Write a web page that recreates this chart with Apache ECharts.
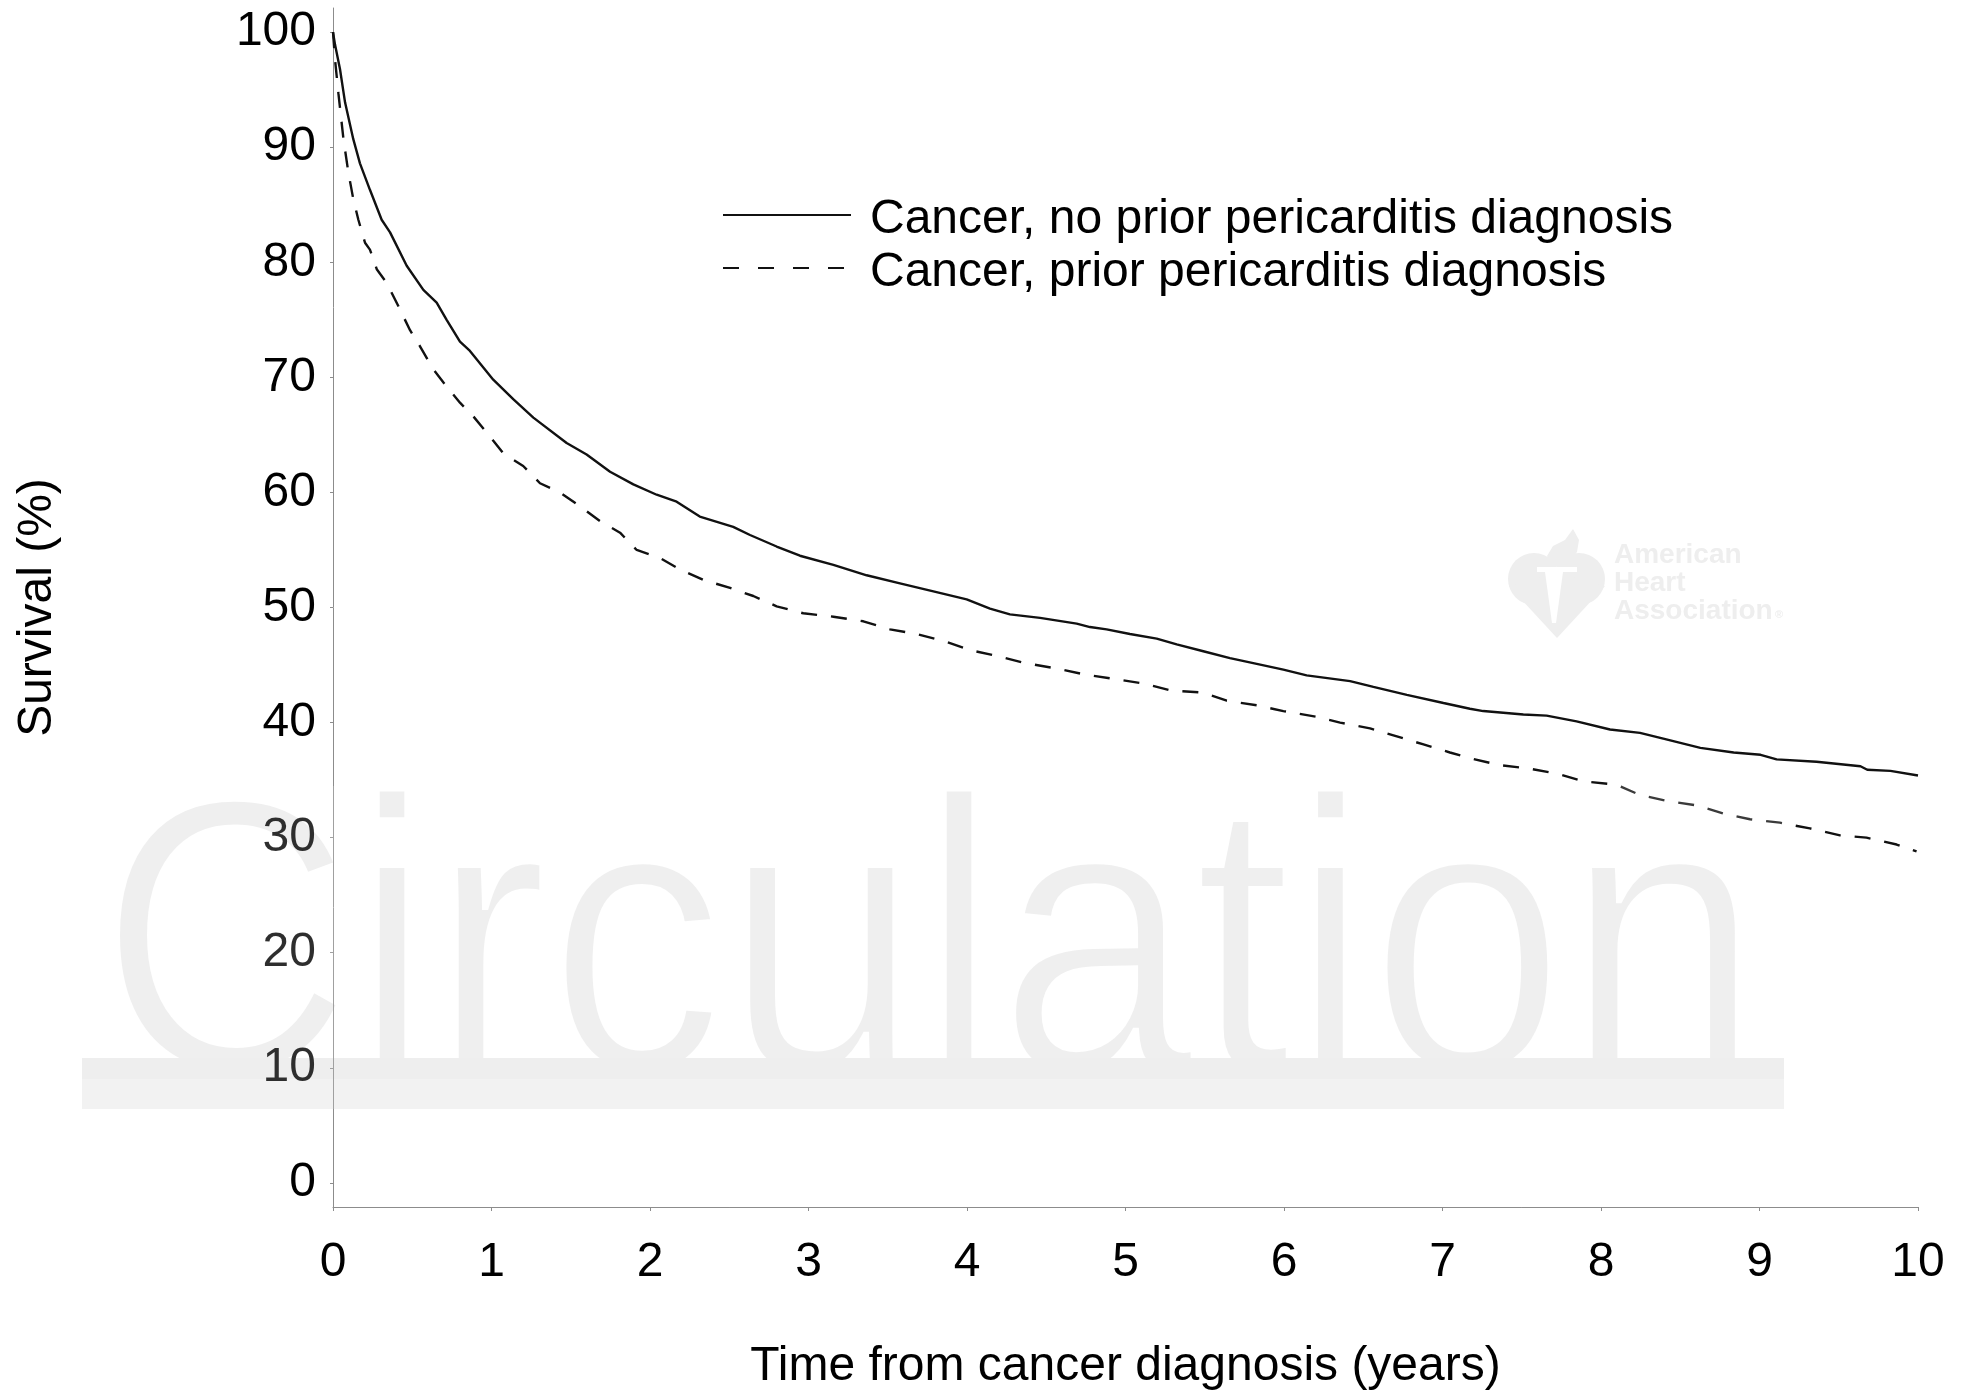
<!DOCTYPE html>
<html>
<head>
<meta charset="utf-8">
<title>Survival after cancer diagnosis</title>
<script src="https://cdn.jsdelivr.net/npm/echarts@6.0.0/dist/echarts.min.js"></script>
<style>
  html, body { margin: 0; padding: 0; background: #fff; }
  #chart { width: 1969px; height: 1391px; }
</style>
</head>
<body>
<div id="chart"></div>
<script>
// survival curves (years, % surviving)
var seriesNames = ['Cancer, no prior pericarditis diagnosis', 'Cancer, prior pericarditis diagnosis'];

var noPriorYears = [0, 0.013, 0.044, 0.076, 0.128, 0.17, 0.233, 0.307, 0.36, 0.465, 0.57, 0.654, 0.717, 0.801, 0.864,
  1.011, 1.137, 1.264, 1.474, 1.6, 1.748, 1.895, 2.042, 2.168, 2.314, 2.525, 2.631, 2.799, 2.946,
  3.157, 3.367, 3.577, 3.788, 3.998, 4.145, 4.271, 4.461, 4.692, 4.776, 4.881, 5.028, 5.197, 5.323,
  5.491, 5.659, 5.828, 5.996, 6.143, 6.417, 6.564, 6.775, 7.006, 7.173, 7.257, 7.51, 7.657, 7.846,
  8.057, 8.246, 8.393, 8.627, 8.837, 9.007, 9.108, 9.36, 9.637, 9.68, 9.826, 10];
var noPriorSurvival = [100, 98.9, 96.8, 93.9, 90.7, 88.6, 86.3, 83.7, 82.6, 79.7, 77.6, 76.5, 75.0, 73.1, 72.3,
  69.8, 68.1, 66.5, 64.3, 63.3, 61.8, 60.7, 59.8, 59.2, 57.9, 57.0, 56.3, 55.3, 54.5,
  53.7, 52.8, 52.1, 51.4, 50.7, 49.9, 49.4, 49.1, 48.6, 48.3, 48.1, 47.7, 47.3, 46.8,
  46.2, 45.6, 45.1, 44.6, 44.1, 43.6, 43.1, 42.4, 41.7, 41.2, 41.0, 40.7, 40.6, 40.1,
  39.4, 39.1, 38.6, 37.8, 37.4, 37.2, 36.8, 36.6, 36.2, 35.9, 35.8, 35.4];

var priorYears = [0, 0.013, 0.034, 0.066, 0.097, 0.128, 0.16, 0.202, 0.233, 0.276, 0.339, 0.412, 0.486, 0.549,
  0.633, 0.717, 0.801, 0.886, 0.97, 1.074, 1.2, 1.306, 1.432, 1.558, 1.685, 1.811, 1.916, 2.063, 2.19,
  2.336, 2.505, 2.652, 2.799, 2.967, 3.157, 3.346, 3.514, 3.683, 3.872, 4.019, 4.187, 4.356, 4.566,
  4.734, 4.924, 5.113, 5.281, 5.491, 5.639, 5.828, 5.996, 6.206, 6.354, 6.543, 6.712, 6.88, 7.047,
  7.173, 7.362, 7.55, 7.741, 7.888, 8.099, 8.246, 8.415, 8.604, 8.772, 8.94, 9.129, 9.318, 9.508,
  9.675, 9.865, 9.991];
var priorSurvival = [100, 97.6, 94.7, 90.7, 87.8, 85.5, 83.7, 81.7, 81.1, 79.4, 78.2, 76.2, 74.1, 72.7,
  70.7, 69.2, 67.8, 66.6, 65.2, 63.4, 62.3, 60.8, 60.0, 58.8, 57.5, 56.5, 55.0, 54.3, 53.3,
  52.4, 51.7, 51.0, 50.1, 49.5, 49.2, 48.8, 48.1, 47.7, 47.0, 46.3, 45.8, 45.2, 44.7,
  44.2, 43.8, 43.4, 42.8, 42.6, 41.9, 41.5, 41.0, 40.5, 40.0, 39.5, 38.8, 38.1, 37.4,
  36.9, 36.3, 36.0, 35.5, 34.9, 34.6, 33.7, 33.2, 32.8, 32.1, 31.6, 31.3, 30.8, 30.2,
  30.0, 29.4, 28.8];

var yTicks = [0, 10, 20, 30, 40, 50, 60, 70, 80, 90, 100];

var font = 'Liberation Sans, Arial, sans-serif';
var axisGray = '#8c8c8c';
var markGray = '#ececec';
var logoGray = '#eeeeee';

function pairs(xs, ys) {
  return xs.map(function (x, i) { return [x, ys[i]]; });
}

var chart = echarts.init(document.getElementById('chart'), null, { renderer: 'canvas' });

var option = {
  animation: false,
  backgroundColor: '#fff',
  textStyle: { fontFamily: font },
  grid: { left: 333, right: 51, top: 8, bottom: 184, outerBoundsMode: 'none' },
  legend: {
    orient: 'vertical',
    left: 722,
    top: 196,
    padding: 0,
    itemGap: 5,
    itemWidth: 128,
    itemHeight: 1,
    selectedMode: false,
    itemStyle: { opacity: 0 },
    formatter: '{t|{name}}',
    textStyle: {
      fontSize: 48, color: '#000', fontFamily: font,
      // nudge the text a few pixels below the sample line
      rich: { t: { fontSize: 48, color: '#000', fontFamily: font, padding: [10, 0, 0, 14] } }
    },
    data: [
      { name: seriesNames[0] },
      { name: seriesNames[1], lineStyle: { type: [16, 19] } }
    ]
  },
  xAxis: {
    type: 'value',
    min: 0,
    max: 10,
    interval: 1,
    name: 'Time from cancer diagnosis (years)',
    nameLocation: 'middle',
    nameGap: 136,
    nameTextStyle: { fontSize: 48, color: '#000', fontFamily: font },
    axisLine: { onZero: false, lineStyle: { color: axisGray, width: 1 } },
    axisTick: { length: 4, lineStyle: { color: axisGray } },
    axisLabel: { fontSize: 48, color: '#000', margin: 32, fontFamily: font },
    splitLine: { show: false }
  },
  yAxis: {
    type: 'value',
    min: -2.1,
    max: 102.1,
    name: 'Survival (%)',
    nameLocation: 'middle',
    nameGap: 271,
    nameTextStyle: { fontSize: 48, color: '#000', fontFamily: font },
    axisLine: { show: true, lineStyle: { color: axisGray, width: 1 } },
    axisTick: { show: true, length: 3, customValues: yTicks, lineStyle: { color: axisGray } },
    axisLabel: { fontSize: 48, color: '#000', margin: 17, customValues: yTicks, fontFamily: font },
    splitLine: { show: false }
  },
  series: [
    {
      name: seriesNames[0],
      type: 'line',
      data: pairs(noPriorYears, noPriorSurvival),
      symbol: 'none',
      color: '#111',
      itemStyle: { color: '#111' },
      lineStyle: { color: '#111', width: 2.4 },
      z: 3
    },
    {
      name: seriesNames[1],
      type: 'line',
      data: pairs(priorYears, priorSurvival),
      symbol: 'none',
      color: '#111',
      itemStyle: { color: '#111' },
      lineStyle: { color: '#111', width: 2.4, type: [16, 14] },
      z: 3
    }
  ],
  // journal watermark behind the plot, plus a faint veil over its area
  graphic: {
    elements: [
      {
        type: 'text', x: 99, y: 963, scaleX: 0.902, z: -11, silent: true,
        style: { text: 'Circulation', font: '390px ' + font, fill: markGray, verticalAlign: 'middle', align: 'left' }
      },
      {
        // thin the strokes of the letters to a light weight
        type: 'text', x: 99, y: 963, scaleX: 0.902, z: -10, silent: true,
        style: { text: 'Circulation', font: '390px ' + font, fill: 'rgba(0,0,0,0)', stroke: '#fff', lineWidth: 7, verticalAlign: 'middle', align: 'left' }
      },
      { type: 'rect', z: -9, silent: true, shape: { x: 82, y: 1058, width: 1702, height: 21 }, style: { fill: '#ebebeb' } },
      { type: 'rect', z: -9, silent: true, shape: { x: 82, y: 1079, width: 1702, height: 30 }, style: { fill: '#efefef' } },
      // heart logo
      { type: 'circle', z: -10, silent: true, shape: { cx: 1534, cy: 579, r: 26 }, style: { fill: logoGray } },
      { type: 'circle', z: -10, silent: true, shape: { cx: 1579, cy: 579, r: 26 }, style: { fill: logoGray } },
      { type: 'polygon', z: -10, silent: true, shape: { points: [[1509, 586], [1557, 572], [1605, 586], [1557, 638]] }, style: { fill: logoGray } },
      {
        type: 'polygon', z: -10, silent: true,
        shape: { points: [[1551, 566], [1547, 556], [1553, 546], [1565, 540], [1573, 529], [1579, 540], [1577, 552], [1569, 562], [1558, 566]] },
        style: { fill: logoGray }
      },
      { type: 'rect', z: -9, silent: true, shape: { x: 1537, y: 567, width: 40, height: 5 }, style: { fill: '#fff' } },
      { type: 'polygon', z: -9, silent: true, shape: { points: [[1545, 572], [1563, 572], [1556, 623], [1552, 623]] }, style: { fill: '#fff' } },
      { type: 'text', x: 1614, y: 555, z: -10, silent: true, style: { text: 'American', font: 'bold 28px ' + font, fill: logoGray, verticalAlign: 'middle' } },
      { type: 'text', x: 1614, y: 583, z: -10, silent: true, style: { text: 'Heart', font: 'bold 28px ' + font, fill: logoGray, verticalAlign: 'middle' } },
      { type: 'text', x: 1614, y: 611, z: -10, silent: true, style: { text: 'Association', font: 'bold 28px ' + font, fill: logoGray, verticalAlign: 'middle' } },
      { type: 'text', x: 1775, y: 615, z: -10, silent: true, style: { text: '\u00ae', font: 'bold 11px ' + font, fill: logoGray, verticalAlign: 'middle' } },
      { type: 'rect', z: 100, silent: true, shape: { x: 82, y: 786, width: 1702, height: 323 }, style: { fill: 'rgba(255,255,255,0.18)' } }
    ]
  }
};

chart.setOption(option);
</script>
</body>
</html>
